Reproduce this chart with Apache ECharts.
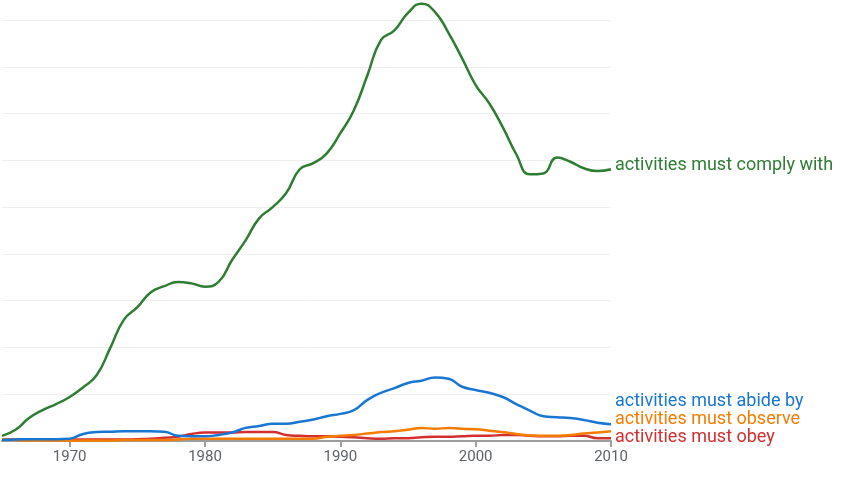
<!DOCTYPE html>
<html>
<head>
<meta charset="utf-8">
<script src="https://cdn.jsdelivr.net/npm/echarts@6/dist/echarts.min.js"></script>
<style>html,body{margin:0;padding:0;background:#fff;}#c{width:847px;height:478px;}</style>
</head>
<body>
<div id="c"></div>
<script>
var years = [];
for (var y = 1965; y <= 2010; y++) years.push(String(y));

var seriesNames = ['activities must comply with', 'activities must abide by', 'activities must observe', 'activities must obey'];

var complyWith = [0.11,0.24,0.49,0.66,0.79,0.94,1.15,1.41,1.99,2.59,2.86,3.18,3.31,3.40,3.37,3.30,3.40,3.87,4.29,4.76,5.00,5.30,5.81,5.94,6.15,6.58,7.07,7.82,8.57,8.78,9.15,9.35,9.17,8.72,8.18,7.61,7.22,6.71,6.13,5.70,5.72,6.06,5.97,5.83,5.77,5.81];
var abideBy = [0.02,0.03,0.04,0.04,0.04,0.05,0.15,0.19,0.20,0.21,0.21,0.21,0.20,0.11,0.10,0.10,0.13,0.18,0.28,0.32,0.37,0.37,0.41,0.46,0.53,0.58,0.66,0.88,1.03,1.13,1.24,1.29,1.36,1.33,1.16,1.09,1.03,0.94,0.79,0.65,0.53,0.51,0.49,0.45,0.39,0.36];
var observe = [0.04,0.02,0.01,0.01,0.01,0.01,0.01,0.01,0.01,0.02,0.02,0.02,0.02,0.03,0.05,0.05,0.05,0.05,0.05,0.05,0.05,0.05,0.05,0.05,0.09,0.11,0.13,0.16,0.19,0.21,0.24,0.28,0.26,0.28,0.26,0.25,0.22,0.19,0.15,0.12,0.11,0.11,0.13,0.16,0.18,0.21];
var obey = [0.04,0.03,0.03,0.03,0.03,0.03,0.03,0.03,0.03,0.03,0.04,0.05,0.07,0.09,0.15,0.18,0.18,0.18,0.19,0.19,0.19,0.13,0.11,0.10,0.10,0.09,0.08,0.06,0.05,0.06,0.06,0.08,0.09,0.09,0.10,0.11,0.11,0.13,0.13,0.11,0.10,0.10,0.11,0.11,0.06,0.06];

var colors = ['#2e7d32', '#1976d2', '#f57c00', '#d32f2f'];
var labelOffsets = [[0, -4], [0, -23], [0, -12], [0, -1]];
var dataSets = [complyWith, abideBy, observe, obey];

var chart = echarts.init(document.getElementById('c'), null, {renderer: 'canvas'});
var isDecade = function (idx, val) { return Number(val) % 10 === 0; };

var series = seriesNames.map(function (name, i) {
  return {
    name: name,
    type: 'line',
    data: dataSets[i],
    smooth: 0.5,
    symbol: 'none',
    clip: false,
    z: 10 - i,
    lineStyle: {color: colors[i], width: 2.5},
    itemStyle: {color: colors[i]},
    endLabel: {
      show: true,
      formatter: name,
      color: colors[i],
      fontFamily: 'Roboto',
      fontSize: 18,
      distance: 4,
      offset: labelOffsets[i]
    }
  };
});
chart.setOption({
  animation: false,
  backgroundColor: '#fff',
  grid: {left: 2, right: 236, top: 20, bottom: 37, containLabel: false},
  xAxis: {
    type: 'category',
    data: years,
    boundaryGap: false,
    axisLine: {lineStyle: {color: '#9e9e9e', width: 2}},
    axisTick: {show: true, interval: isDecade, length: 6, lineStyle: {color: '#9e9e9e', width: 2}},
    axisLabel: {interval: isDecade, color: '#5f6368', fontFamily: 'Roboto', fontSize: 15, margin: 9},
    splitLine: {show: false}
  },
  yAxis: {
    type: 'value',
    min: 0,
    max: 9,
    interval: 1,
    axisLine: {show: false},
    axisTick: {show: false},
    axisLabel: {show: false},
    splitLine: {lineStyle: {color: '#eeeeee', width: 1}}
  },
  series: series
});
</script>
</body>
</html>
